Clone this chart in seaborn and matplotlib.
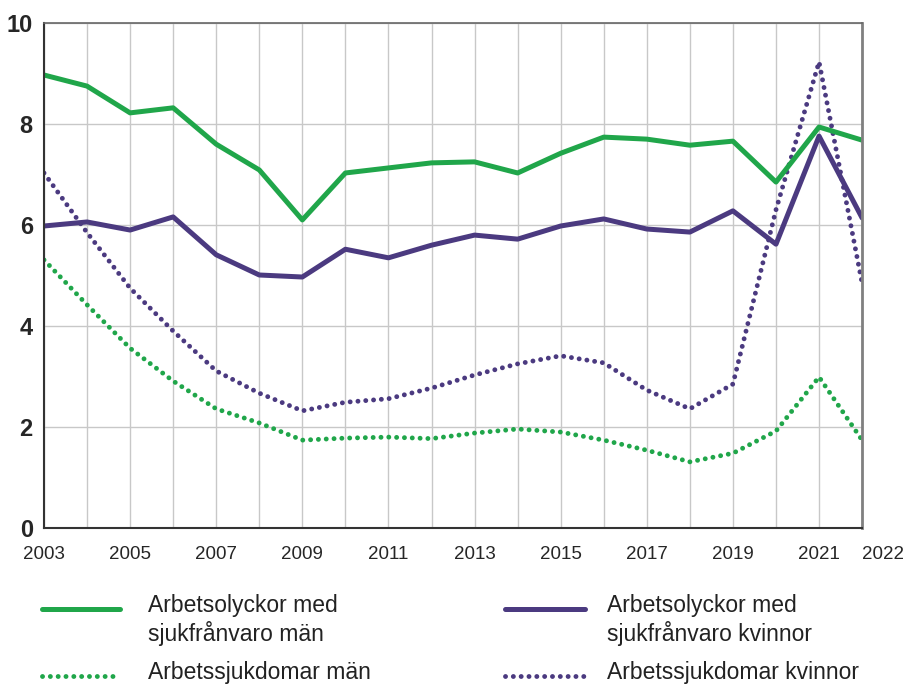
import numpy as np
import pandas as pd
import matplotlib
matplotlib.use('Agg')
import matplotlib.pyplot as plt
from matplotlib.lines import Line2D
import seaborn as sns

years = list(range(2003, 2023))

# arbetsolyckor med sjukfrånvaro
olyckor_man = [8.97, 8.75, 8.22, 8.32, 7.60, 7.09, 6.10, 7.03, 7.13, 7.23,
               7.25, 7.03, 7.42, 7.74, 7.70, 7.58, 7.66, 6.85, 7.94, 7.68]
olyckor_kvinnor = [5.98, 6.06, 5.90, 6.16, 5.41, 5.01, 4.97, 5.52, 5.35, 5.60,
                   5.80, 5.72, 5.98, 6.12, 5.92, 5.86, 6.28, 5.62, 7.76, 6.14]
# arbetssjukdomar
sjuk_man = [5.31, 4.42, 3.56, 2.91, 2.36, 2.08, 1.74, 1.78, 1.80, 1.77,
            1.88, 1.96, 1.90, 1.74, 1.54, 1.31, 1.48, 1.92, 2.99, 1.74]
sjuk_kvinnor = [7.03, 5.85, 4.75, 3.90, 3.11, 2.67, 2.32, 2.49, 2.56, 2.77,
                3.03, 3.25, 3.41, 3.27, 2.73, 2.36, 2.85, 6.30, 9.23, 4.85]

labels = ['Arbetsolyckor med\nsjukfrånvaro män', 'Arbetsolyckor med\nsjukfrånvaro kvinnor',
          'Arbetssjukdomar män', 'Arbetssjukdomar kvinnor']
xtick_labels = [2003, 2005, 2007, 2009, 2011, 2013, 2015, 2017, 2019, 2021, 2022]

green = '#20a64a'
purple = '#4b3a80'

sns.set_style('white')
plt.rcParams['font.family'] = ['Liberation Sans', 'DejaVu Sans']

fig = plt.figure(figsize=(9.05, 6.86), dpi=100)
ax = fig.add_axes([0.0486, 0.2303, 0.904, 0.7362])

df = pd.DataFrame({'year': years, 'om': olyckor_man, 'ok': olyckor_kvinnor,
                   'sm': sjuk_man, 'sk': sjuk_kvinnor})

dot = dict(linestyle=(0, (0.01, 1.6)), dash_capstyle='round', linewidth=3.5)
sns.lineplot(data=df, x='year', y='sm', color=green, ax=ax, **dot)
sns.lineplot(data=df, x='year', y='sk', color=purple, ax=ax, **dot)
sns.lineplot(data=df, x='year', y='om', color=green, linewidth=3.6, ax=ax)
sns.lineplot(data=df, x='year', y='ok', color=purple, linewidth=3.6, ax=ax)

ax.set_xlim(2003, 2022)
ax.set_ylim(0, 10)
ax.set_xticks(xtick_labels)
ax.set_xticks(years, minor=True)
ax.set_yticks([0, 2, 4, 6, 8, 10])
ax.grid(True, which='minor', axis='x', color='#c8c8c8', linewidth=1)
ax.grid(True, which='major', axis='both', color='#c8c8c8', linewidth=1)
ax.set_axisbelow(True)
ax.set_xlabel('')
ax.set_ylabel('')
ax.tick_params(axis='x', which='both', length=0, labelsize=13.5, pad=13)
ax.tick_params(axis='y', length=0, labelsize=17, pad=8)
for t in ax.get_yticklabels():
    t.set_fontweight('bold')
# the last year label sits to the right of its grid line
ax.get_xticklabels()[-1].set_horizontalalignment('left')
for side in ['left', 'bottom']:
    ax.spines[side].set_color('#333333')
    ax.spines[side].set_linewidth(1.5)
ax.spines['top'].set_color('#666666')
ax.spines['top'].set_linewidth(1.2)
ax.spines['right'].set_color('#808080')
ax.spines['right'].set_linewidth(2)

# legend, built by hand so the handle sits level with the first text line
W, H = 905, 686
entries = [(42, 120, 609, 148, 594, green, '-', labels[0]),
           (505, 585, 609, 607, 594, purple, '-', labels[1]),
           (42, 120, 676, 148, 661, green, ':', labels[2]),
           (505, 585, 676, 607, 661, purple, ':', labels[3])]
for x0, x1, yl, xt, yt, c, ls, lab in entries:
    if ls == '-':
        fig.add_artist(Line2D([x0 / W, x1 / W], [1 - yl / H, 1 - yl / H], color=c,
                              linewidth=3.6, solid_capstyle='round'))
    else:
        fig.add_artist(Line2D([x0 / W, x1 / W], [1 - yl / H, 1 - yl / H], color=c,
                              **dot))
    fig.text(xt / W, 1 - yt / H, lab, fontsize=16.5, va='top', ha='left',
             linespacing=1.2, color='#222222')

fig.savefig('out.png', dpi=100)
